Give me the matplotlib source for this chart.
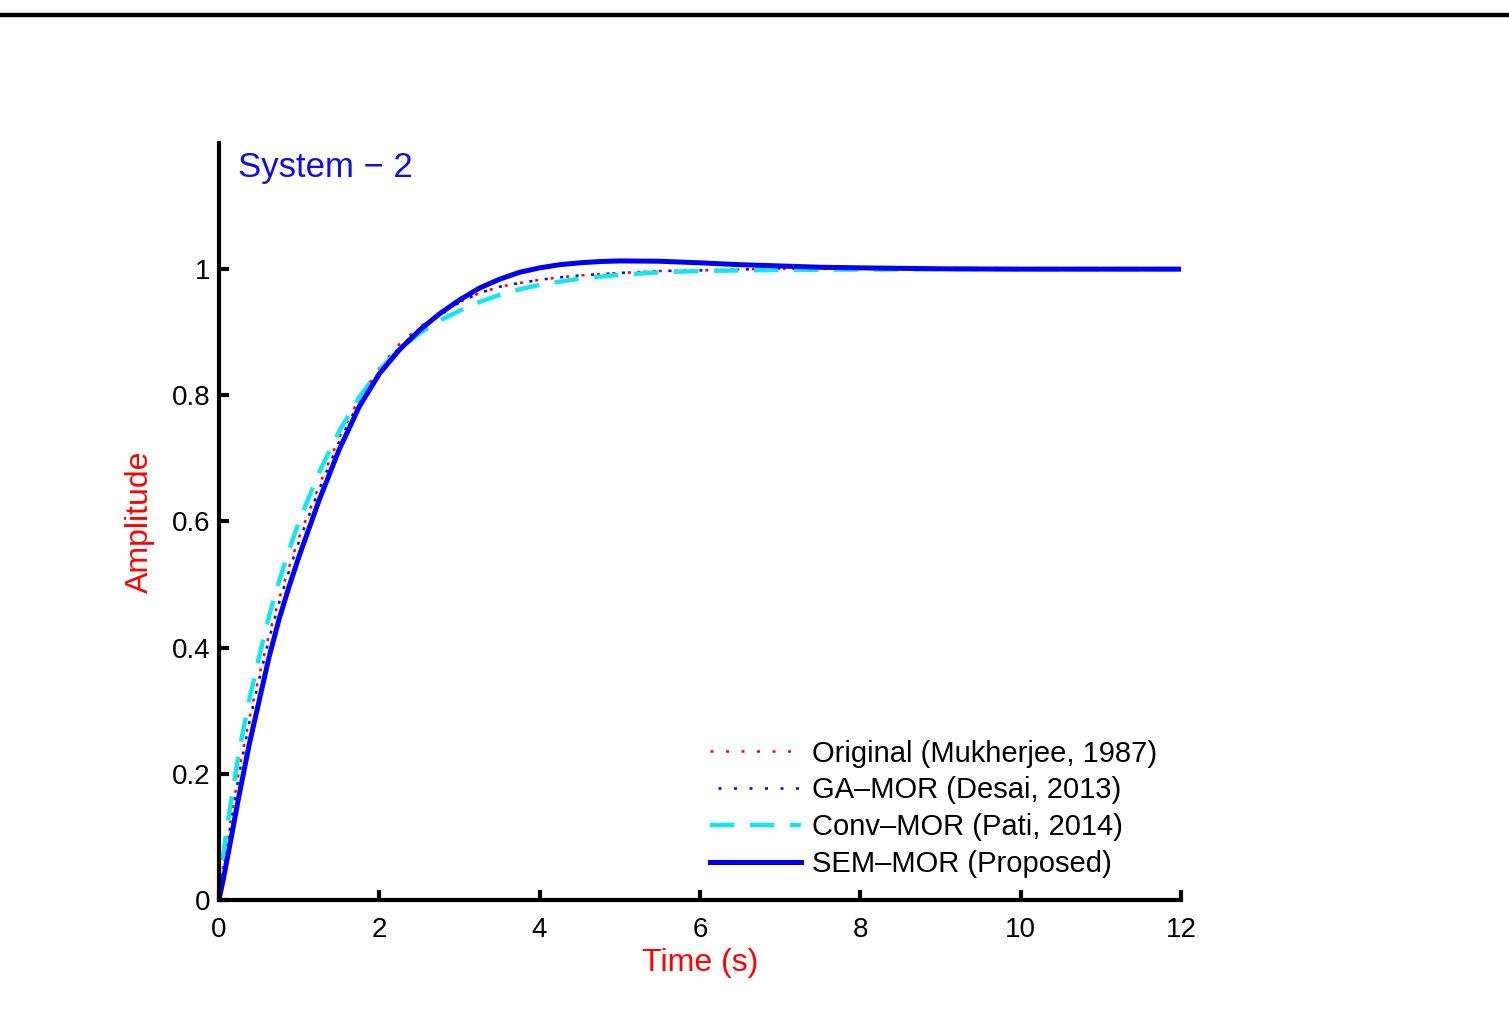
import numpy as np
import matplotlib
matplotlib.use("Agg")
import matplotlib.pyplot as plt
from matplotlib.lines import Line2D

# step responses (time in s, amplitude)
t = [0, 0.05, 0.125, 0.25, 0.375, 0.5, 0.625, 0.75, 0.875, 1.0, 1.25, 1.5, 1.75, 2.0,
     2.25, 2.5, 2.75, 3.0, 3.25, 3.5, 3.75, 4.0, 4.25, 4.5, 4.75, 5.0, 5.5, 6.0, 6.5,
     7.0, 7.5, 8.0, 9.0, 10.0, 11.0, 12.0]

original = [0, 0.05, 0.11, 0.205, 0.285, 0.355, 0.42, 0.477, 0.528, 0.575, 0.657, 0.733, 0.795, 0.843,
            0.881, 0.908, 0.930, 0.948, 0.962, 0.972, 0.978, 0.983, 0.987, 0.990, 0.992, 0.994, 0.997, 0.998, 0.9995,
            1.0008, 1.0008, 1.0005, 1.0, 1.0, 1.0, 1.0]
ga_mor = [0, 0.046, 0.104, 0.199, 0.279, 0.349, 0.414, 0.471, 0.522, 0.569, 0.651, 0.727, 0.789, 0.837,
          0.876, 0.904, 0.927, 0.947, 0.962, 0.972, 0.978, 0.983, 0.987, 0.990, 0.992, 0.994, 0.997, 0.998, 0.9995,
          1.0008, 1.0008, 1.0005, 1.0, 1.0, 1.0, 1.0]
conv_mor = [0, 0.07, 0.135, 0.235, 0.315, 0.385, 0.45, 0.505, 0.555, 0.60, 0.678, 0.743, 0.797, 0.840,
            0.873, 0.898, 0.918, 0.934, 0.948, 0.959, 0.968, 0.975, 0.980, 0.985, 0.988, 0.991, 0.995, 0.997, 0.998,
            0.9985, 0.999, 0.9993, 1.0, 1.0, 1.0, 1.0]
sem_mor = [0, 0.03, 0.08, 0.165, 0.245, 0.315, 0.385, 0.445, 0.497, 0.545, 0.634, 0.714, 0.782, 0.834,
           0.872, 0.903, 0.929, 0.951, 0.970, 0.984, 0.995, 1.002, 1.007, 1.010, 1.012, 1.013, 1.0125, 1.010, 1.007,
           1.005, 1.003, 1.002, 1.0005, 1.0, 1.0, 1.0]

labels = ["Original (Mukherjee, 1987)", "GA\u2013MOR (Desai, 2013)",
          "Conv\u2013MOR (Pati, 2014)", "SEM\u2013MOR (Proposed)"]

x_ticks = [0, 2, 4, 6, 8, 10, 12]
y_ticks = [0, 0.2, 0.4, 0.6, 0.8, 1]
y_tick_labels = ["0", "0.2", "0.4", "0.6", "0.8", "1"]

plt.rcParams["font.family"] = ["Liberation Sans", "DejaVu Sans"]
fig = plt.figure(figsize=(15.09, 10.27), dpi=100)
ax = fig.add_axes([0.1451, 0.1237, 0.6375, 0.7371])

ax.plot(t, original, color="red", linestyle=(0, (1.2, 5)), linewidth=1.8, label=labels[0])
ax.plot(t, ga_mor, color="blue", linestyle=(3, (1.2, 5)), linewidth=1.8, label=labels[1])
ax.plot(t, conv_mor, color="#14e6f0", linestyle=(0, (5.5, 3.5)), linewidth=3.2, label=labels[2])
ax.plot(t, sem_mor, color="#0000f0", linestyle="-", linewidth=3.6, label=labels[3])

ax.set_xlim(0, 12)
ax.set_ylim(0, 1.2)
ax.set_xticks(x_ticks)
ax.set_yticks(y_ticks)
ax.set_yticklabels(y_tick_labels)

for side in ["top", "right"]:
    ax.spines[side].set_visible(False)
for side in ["left", "bottom"]:
    ax.spines[side].set_linewidth(3)
ax.tick_params(direction="in", length=7, width=3, labelsize=20)
ax.tick_params(axis="x", pad=12)
ax.tick_params(axis="y", pad=6)

ax.set_xlabel("Time (s)", color="red", fontsize=23, labelpad=4)
ax.set_ylabel("Amplitude", color="red", fontsize=23, labelpad=12)
ax.text(0.02, 0.99, "System \u2212 2", transform=ax.transAxes, color="#1010e0",
        fontsize=25, ha="left", va="top")

ax.legend(loc="lower right", bbox_to_anchor=(0.99, 0.01), frameon=False, fontsize=21,
          handlelength=3.15, handletextpad=0.35, labelspacing=0.3, borderpad=0)

# black rule across the top of the page
fig.add_artist(Line2D([0, 1], [0.9854, 0.9854], color="black", linewidth=3.2,
                      transform=fig.transFigure))

fig.savefig("out.png", dpi=100)
